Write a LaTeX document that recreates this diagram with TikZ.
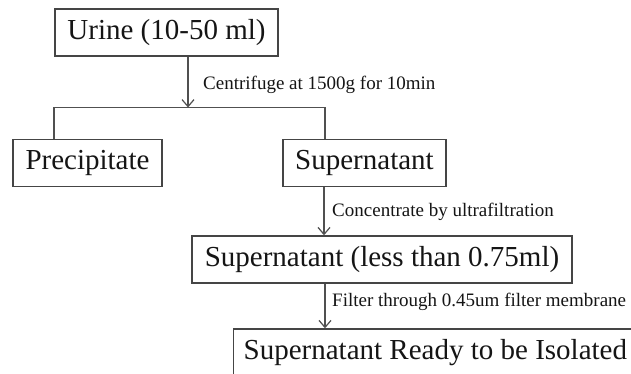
\documentclass[tikz,border=0pt]{standalone}
\usepackage{fontspec}
\setmainfont{Liberation Serif}
\usetikzlibrary{arrows.meta}
\definecolor{linec}{HTML}{505050}
\definecolor{boxc}{HTML}{454545}
\definecolor{txtc}{HTML}{151515}
\tikzset{
  box/.style={draw=boxc, line width=1.4pt, rectangle, inner sep=0pt, text=txtc,
    font=\fontsize{29}{34}\selectfont},
  lbl/.style={anchor=west, inner sep=0pt, text=txtc, font=\fontsize{19}{22}\selectfont},
  conn/.style={draw=linec, line width=1.4pt},
  arr/.style={conn, -{Straight Barb[length=7pt,width=12pt,line width=1.2pt]}}
}
\begin{document}
\begin{tikzpicture}[x=1pt,y=-1pt]
\clip (0,0) rectangle (631,374);
\fill[white] (0,0) rectangle (631,374);
\node[box, minimum width=223pt, minimum height=47pt] (urine) at (166.5,32.5) {Urine (10-50 ml)};
\node[box, minimum width=149pt, minimum height=47pt] (precip) at (87.5,163) {Precipitate};
\node[box, minimum width=163pt, minimum height=47pt] (super) at (364.5,163) {Supernatant};
\node[box, minimum width=380pt, minimum height=47pt] (less) at (382,259.5) {Supernatant (less than 0.75ml)};
\node[box, anchor=west, inner xsep=10pt, minimum height=47pt] (final) at (233,352.5) {Supernatant Ready to be Isolated};
\coordinate (j) at (188,107.5);
\coordinate (jl) at (54,107.5);
\coordinate (jr) at (325,107.5);
\coordinate (c2) at (324,0);
\coordinate (c3) at (325,0);
\draw[arr] (urine.south -| j) -- (j);
\draw[conn] (jl |- precip.north) -- (jl) -- (jr) -- (jr |- super.north);
\draw[arr] (c2 |- super.south) -- (c2 |- less.north);
\draw[arr] (c3 |- less.south) -- (c3 |- final.north);
\node[lbl] (l1) at (203,85) {Centrifuge at 1500g for 10min};
\node[lbl] (l2) at (332,212) {Concentrate by ultrafiltration};
\node[lbl] (l3) at (332,302) {Filter through 0.45um filter membrane};
\end{tikzpicture}
\end{document}
